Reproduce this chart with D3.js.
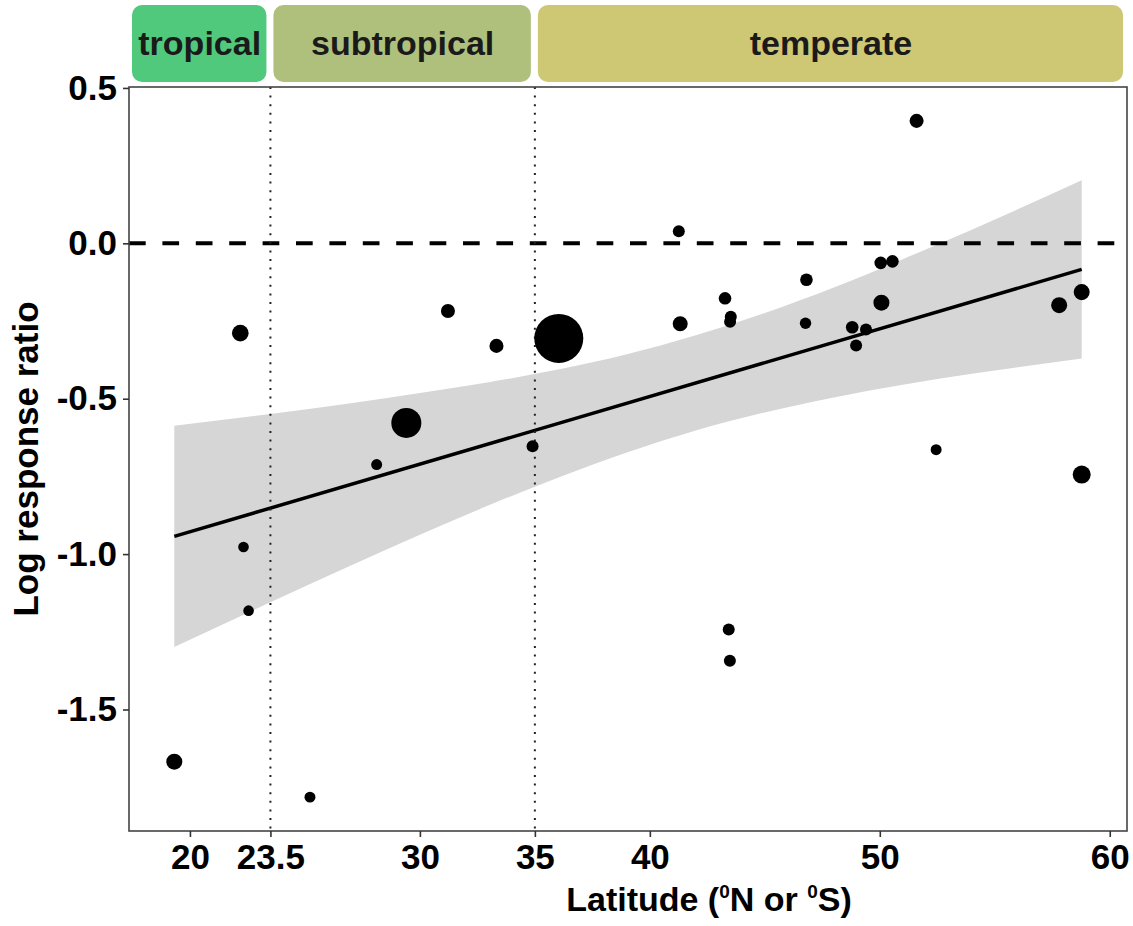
<!DOCTYPE html>
<html>
<head>
<meta charset="utf-8">
<script src="https://cdn.jsdelivr.net/npm/d3@7"></script>
<style>
  body { margin: 0; background: #fff; }
  text { font-family: "Liberation Sans", Arial, sans-serif; font-weight: bold; }
</style>
</head>
<body>
<svg id="plot"></svg>
<script>
// Observed studies: latitude, log response ratio, weight (point size)
const latitude = [19.32, 22.19, 22.33, 22.55, 25.22, 28.12, 29.41, 31.22, 33.33, 34.90,
    36.04, 41.26, 41.32, 43.27, 43.52, 43.49, 43.43, 43.48, 46.81, 46.77,
    48.80, 49.40, 48.97, 50.04, 50.55, 50.07, 51.60, 52.45, 57.80, 58.78, 58.78];
const lnRR = [-1.668, -0.289, -0.977, -1.182, -1.782, -0.712, -0.578, -0.218, -0.330, -0.653,
    -0.306, 0.039, -0.259, -0.177, -0.236, -0.252, -1.243, -1.343, -0.117, -0.257,
    -0.270, -0.277, -0.329, -0.063, -0.058, -0.191, 0.394, -0.664, -0.199, -0.157, -0.744];
const weight = [10.7, 11.5, 4.7, 4.7, 5, 5, 37.5, 8.2, 8.2, 6,
    100, 6, 9.4, 6.6, 6, 6, 6, 6, 6.6, 5.4,
    6.6, 6, 6, 6.6, 6.6, 10.7, 8.2, 5, 10.7, 10.7, 13.5];

// Fitted line and its confidence band
const fitLat = [19.32, 58.78];
const fitY = [-0.943, -0.084];
const bandLat = [19.32, 23.5, 27, 30, 33, 36, 39, 42, 45, 48, 51, 54, 58.78];
const bandUpper = [-0.587, -0.549, -0.515, -0.482, -0.447, -0.406, -0.357, -0.296, -0.224, -0.142, -0.051, 0.044, 0.203];
const bandLower = [-1.299, -1.155, -1.037, -0.938, -0.843, -0.754, -0.673, -0.602, -0.544, -0.496, -0.455, -0.420, -0.371];

// Climate zones and axis ticks
const zoneNames = ['tropical', 'subtropical', 'temperate'];
const zoneColors = ['#50c97c', '#afc07d', '#cec774'];
const zoneBreaks = [23.5, 35];
const xTicks = [20, 23.5, 30, 35, 40, 50, 60];
const yTicks = [0.5, 0.0, -0.5, -1.0, -1.5];

let width = 1133;
let height = 926;
let panel = { left: 129, right: 1127, top: 87, bottom: 831 };

let svg = d3.select('#plot')
    .attr('width', width)
    .attr('height', height);

let xScale = d3.scaleLinear().domain([17.35, 60.75]).range([panel.left, panel.right]);
let yScale = d3.scaleLinear().domain([-1.891, 0.503]).range([panel.bottom, panel.top]);
let rScale = d3.scaleSqrt().domain([0, 100]).range([0, 24.5]);

// Zone header strips
let edges = [xScale.domain()[0], ...zoneBreaks, xScale.domain()[1]];
let strips = svg.selectAll('.strip')
    .data(zoneNames)
    .enter()
    .append('g')
    .attr('class', 'strip');

strips.append('rect')
    .attr('x', (d, i) => xScale(edges[i]) + 3)
    .attr('y', 5)
    .attr('width', (d, i) => xScale(edges[i + 1]) - xScale(edges[i]) - 7)
    .attr('height', 77)
    .attr('rx', 10)
    .style('fill', (d, i) => zoneColors[i]);

strips.append('text')
    .attr('x', (d, i) => (xScale(edges[i]) + xScale(edges[i + 1])) / 2)
    .attr('y', 55)
    .attr('text-anchor', 'middle')
    .style('font-size', '34px')
    .style('fill', '#1a1a1a')
    .text(d => d);

// Panel background
svg.append('rect')
    .attr('x', panel.left)
    .attr('y', panel.top)
    .attr('width', panel.right - panel.left)
    .attr('height', panel.bottom - panel.top)
    .style('fill', '#fff');

// Confidence band
let bandData = bandLat.map((d, i) => ({ x: d, lo: bandLower[i], hi: bandUpper[i] }));
svg.append('path')
    .datum(bandData)
    .attr('d', d3.area()
        .curve(d3.curveMonotoneX)
        .x(d => xScale(d.x))
        .y0(d => yScale(d.lo))
        .y1(d => yScale(d.hi)))
    .style('fill', '#d6d6d6');

// Regression line
svg.append('line')
    .attr('x1', xScale(fitLat[0]))
    .attr('y1', yScale(fitY[0]))
    .attr('x2', xScale(fitLat[1]))
    .attr('y2', yScale(fitY[1]))
    .style('stroke', '#000')
    .style('stroke-width', 3.5);

// Zero line
svg.append('line')
    .attr('x1', panel.left)
    .attr('x2', panel.right)
    .attr('y1', yScale(0))
    .attr('y2', yScale(0))
    .style('stroke', '#000')
    .style('stroke-width', 4)
    .style('stroke-dasharray', '16.7 16.7');

// Zone boundaries
svg.selectAll('.zone-line')
    .data(zoneBreaks)
    .enter()
    .append('line')
    .attr('class', 'zone-line')
    .attr('x1', d => xScale(d))
    .attr('x2', d => xScale(d))
    .attr('y1', panel.top)
    .attr('y2', panel.bottom)
    .style('stroke', '#222')
    .style('stroke-width', 2)
    .style('stroke-dasharray', '2 6.6');

// Points
let points = latitude.map((d, i) => ({ lat: d, y: lnRR[i], w: weight[i] }));
svg.selectAll('.dot')
    .data(points)
    .enter()
    .append('circle')
    .attr('class', 'dot')
    .attr('cx', d => xScale(d.lat))
    .attr('cy', d => yScale(d.y))
    .attr('r', d => rScale(d.w))
    .style('fill', '#000');

// Panel border
svg.append('rect')
    .attr('x', panel.left)
    .attr('y', panel.top)
    .attr('width', panel.right - panel.left)
    .attr('height', panel.bottom - panel.top)
    .style('fill', 'none')
    .style('stroke', '#444')
    .style('stroke-width', 1.6);

// Axes (plain hyphen for negatives, as in the original)
let yFormat = d => d3.format('.1f')(d).replace('\u2212', '-');
let xAxis = svg.append('g')
    .attr('transform', `translate(0, ${panel.bottom})`)
    .call(d3.axisBottom(xScale).tickValues(xTicks).tickSize(6).tickPadding(7).tickFormat(d3.format('')));
let yAxis = svg.append('g')
    .attr('transform', `translate(${panel.left}, 0)`)
    .call(d3.axisLeft(yScale).tickValues(yTicks).tickSize(6).tickPadding(6).tickFormat(yFormat));

[xAxis, yAxis].forEach(function(ax) {
    ax.select('.domain').remove();
    ax.selectAll('line').style('stroke', '#333').style('stroke-width', 1.6);
    ax.selectAll('text')
        .style('font-size', '35px')
        .style('fill', '#000')
        .style('font-family', '"Liberation Sans", Arial, sans-serif');
});

// Axis titles
let xTitle = svg.append('text')
    .attr('x', 709)
    .attr('y', 911)
    .attr('text-anchor', 'middle')
    .style('font-size', '34px')
    .style('fill', '#000');
xTitle.append('tspan').text('Latitude (');
xTitle.append('tspan').attr('dy', -13).style('font-size', '19px').text('0');
xTitle.append('tspan').attr('dy', 13).text('N or ');
xTitle.append('tspan').attr('dy', -13).style('font-size', '19px').text('0');
xTitle.append('tspan').attr('dy', 13).text('S)');

svg.append('text')
    .attr('transform', 'rotate(-90)')
    .attr('x', -(panel.top + panel.bottom) / 2)
    .attr('y', 38)
    .attr('text-anchor', 'middle')
    .style('font-size', '35px')
    .style('fill', '#000')
    .text('Log response ratio');
</script>
</body>
</html>
